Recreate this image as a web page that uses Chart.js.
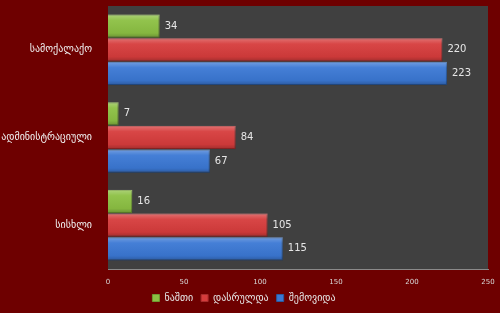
<!DOCTYPE html>
<html>
<head>
<meta charset="utf-8">
<script src="https://cdn.jsdelivr.net/npm/chart.js@4"></script>
<style>
  html, body { margin: 0; padding: 0; background: #6e0000; }
  #wrap { width: 500px; height: 313px; }
</style>
</head>
<body>
<div id="wrap"><canvas id="chart" width="500" height="313"></canvas></div>
<script>
// categories and series
const categories = ['სამოქალაქო', 'ადმინისტრაციული', 'სისხლი'];
const remaining = [34, 7, 16];     // ნაშთი
const finished = [220, 84, 105];   // დასრულდა
const received = [223, 67, 115];   // შემოვიდა
const xTicks = [0, 50, 100, 150, 200, 250];

const FONT = '"DejaVu Sans", sans-serif';

// grey plot background
const plotBg = {
    id: 'plotBg',
    beforeDraw(chart) {
        const a = chart.chartArea, ctx = chart.ctx;
        ctx.save();
        ctx.fillStyle = '#404040';
        ctx.fillRect(a.left, a.top, a.right - a.left, a.bottom - a.top);
        ctx.restore();
    }
};

// shiny top strip + value labels
const barExtras = {
    id: 'barExtras',
    afterDatasetsDraw(chart) {
        const ctx = chart.ctx;
        ctx.save();
        chart.data.datasets.forEach((ds, i) => {
            chart.getDatasetMeta(i).data.forEach((bar, j) => {
                const top = bar.y - bar.height / 2;
                const g = ctx.createLinearGradient(0, top, 0, top + bar.height);
                g.addColorStop(0, 'rgba(255,255,255,0.28)');
                g.addColorStop(0.25, 'rgba(255,255,255,0.05)');
                g.addColorStop(0.8, 'rgba(0,0,0,0.05)');
                g.addColorStop(1, 'rgba(0,0,0,0.25)');
                ctx.fillStyle = g;
                ctx.fillRect(bar.base, top, bar.x - bar.base, bar.height);
                ctx.fillStyle = '#e6e6e6';
                ctx.font = '10px ' + FONT;
                ctx.textBaseline = 'middle';
                ctx.fillText(ds.data[j], bar.x + 5, bar.y);
            });
        });
        ctx.restore();
    }
};

new Chart(document.getElementById('chart'), {
    type: 'bar',
    data: {
        labels: categories,
        datasets: [
            { label: 'ნაშთი', data: remaining, backgroundColor: '#8cc043', borderColor: '#6f9a32', borderWidth: 1 },
            { label: 'დასრულდა', data: finished, backgroundColor: '#d63c3c', borderColor: '#a82c2c', borderWidth: 1 },
            { label: 'შემოვიდა', data: received, backgroundColor: '#3b78d4', borderColor: '#2a5a9e', borderWidth: 1 }
        ]
    },
    options: {
        indexAxis: 'y',
        responsive: false,
        animation: false,
        layout: { padding: { top: 6, right: 12, left: 0, bottom: 0 } },
        datasets: { bar: { categoryPercentage: 0.81, barPercentage: 0.98 } },
        scales: {
            x: {
                min: 0, max: 250,
                afterBuildTicks: s => { s.ticks = xTicks.map(v => ({ value: v })); },
                grid: { display: false },
                border: { color: '#8a8a8a' },
                ticks: { color: '#d8d8d8', font: { size: 7, family: FONT }, padding: 1 },
                afterFit: s => { s.height = 16; }
            },
            y: {
                grid: { display: false },
                border: { display: false },
                ticks: { color: '#f2f2f2', font: { size: 10, family: FONT }, padding: 8 },
                afterFit: s => { s.width = 108; s.paddingTop = 0; s.paddingBottom = 0; }
            }
        },
        plugins: {
            legend: {
                position: 'bottom',
                labels: {
                    color: '#e6e6e6',
                    font: { size: 10, family: FONT },
                    boxWidth: 7, boxHeight: 7,
                    padding: 8
                }
            },
            tooltip: { enabled: false }
        }
    },
    plugins: [plotBg, barExtras]
});
</script>
</body>
</html>
